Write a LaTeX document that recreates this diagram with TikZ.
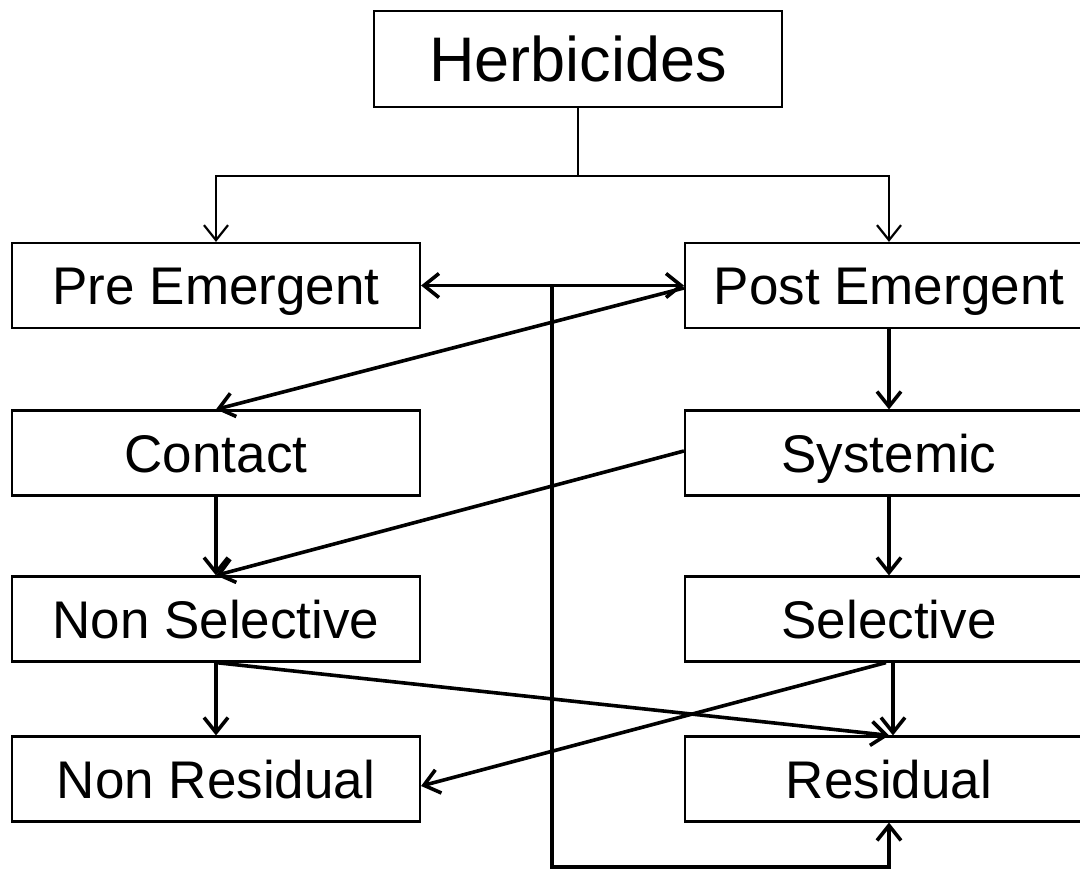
\documentclass[tikz,border=0pt]{standalone}
\usepackage{fontspec}
\setmainfont{Liberation Sans}
\usetikzlibrary{arrows.meta}
\tikzset{
  box/.style={draw, line width=2.2pt, minimum width=408pt, minimum height=85pt, inner sep=0pt, text height=38pt, text depth=0pt, font=\fontsize{53}{60}\selectfont},
  thinlink/.style={line width=2.2pt, -{Straight Barb[length=15pt,width=24pt]}},
  link/.style={line width=3.6pt, -{Straight Barb[length=15pt,width=24pt]}},
}
\begin{document}
\begin{tikzpicture}[x=1pt,y=-1pt]
\useasboundingbox (0,0) rectangle (1080,870);
\node[box, minimum height=96pt, text height=45pt, font=\fontsize{63}{70}\selectfont] (herb) at (578,59) {Herbicides};
\node[box] (pre)  at (216,285.5) {Pre Emergent};
\node[box] (post) at (889,285.5) {Post Emergent};
\node[box] (con)  at (216,453) {Contact};
\node[box] (sys)  at (889,453) {Systemic};
\node[box] (nsel) at (216,619) {Non Selective};
\node[box] (sel)  at (889,619) {Selective};
\node[box] (nres) at (216,779) {Non Residual};
\node[box] (res)  at (889,779) {Residual};
% top tree
\coordinate (hj) at (578,176);
\draw[line width=2.2pt] (herb.south) -- (hj);
\draw[thinlink] (hj) -| (pre.north);
\draw[thinlink] (hj) -| (post.north);
% loop
\coordinate (lp) at (552,285.5);
\coordinate (lb) at (552,867);
\draw[link] (lp) -- (pre.east);
\draw[link] (lp) -- (post.west);
\draw[link] (lp) -- (lb) -| (res.south);
% other links
\draw[link] ([yshift=-2.5pt]post.west) -- (con.north);
\draw[link] (post.south) -- (sys.north);
\draw[link] (con.south) -- (nsel.north);
\draw[link] ([yshift=2pt]sys.west) -- (nsel.north);
\draw[link] (sys.south) -- (sel.north);
\draw[link] (nsel.south) -- (nres.north);
\draw[link] (nsel.south) -- (res.north);
\draw[link] ([xshift=-3pt]sel.south) -- ([yshift=-7pt]nres.east);
\draw[link] ([xshift=4pt]sel.south) -- ([xshift=4pt]res.north);
\end{tikzpicture}
\end{document}
